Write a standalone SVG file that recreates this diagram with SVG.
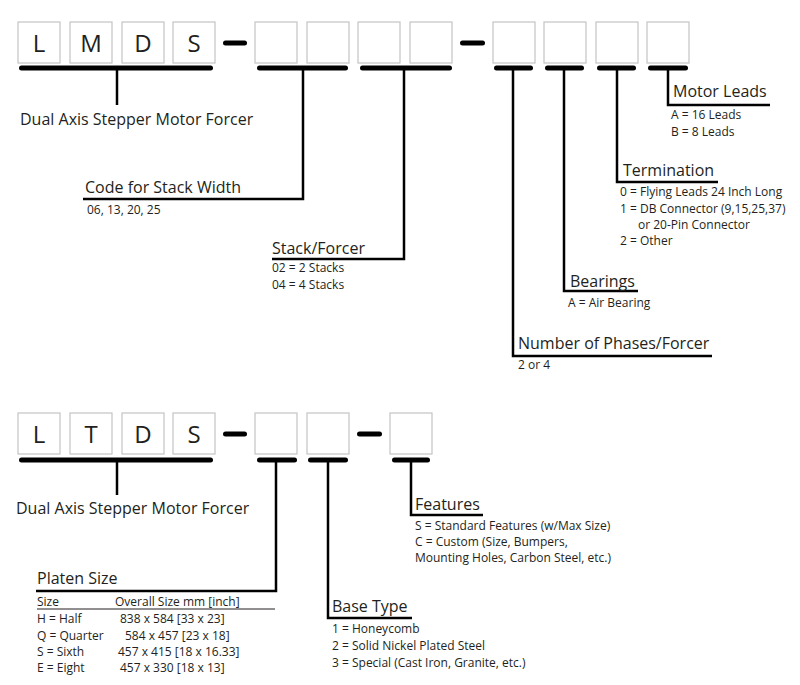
<svg xmlns="http://www.w3.org/2000/svg" width="800" height="685" viewBox="0 0 800 685">
<style>
text{font-family:"Open Sans","Noto Sans","Liberation Sans",sans-serif;fill:#231f20}
.box{fill:#fff;stroke:#c4c4c4;stroke-width:1.2}
.ltr{font-size:24px;text-anchor:middle}
.bar{stroke:#000;stroke-width:5;stroke-linecap:round;fill:none}
.ln{stroke:#000;stroke-width:2.5;fill:none}
.thin{stroke:#231f20;stroke-width:1;fill:none}
.t{font-size:16px}
.s{font-size:12px}
</style>
<rect width="800" height="685" fill="#fff"/>

<!-- TOP: LMDS code -->
<g id="lmds-code">
<rect class="box" x="18" y="22" width="42" height="41"/><text class="ltr" x="39" y="52">L</text>
<rect class="box" x="70" y="22" width="42" height="41"/><text class="ltr" x="91" y="52">M</text>
<rect class="box" x="122" y="22" width="42" height="41"/><text class="ltr" x="143" y="52">D</text>
<rect class="box" x="173" y="22" width="42" height="41"/><text class="ltr" x="194" y="52">S</text>
<line class="bar" x1="225.5" y1="43" x2="244.5" y2="43"/>
<rect class="box" x="255" y="22" width="42" height="41"/>
<rect class="box" x="307" y="22" width="42" height="41"/>
<rect class="box" x="358" y="22" width="42" height="41"/>
<rect class="box" x="410" y="22" width="42" height="41"/>
<line class="bar" x1="462.5" y1="43" x2="482.5" y2="43"/>
<rect class="box" x="493" y="22" width="42" height="41"/>
<rect class="box" x="544" y="22" width="42" height="41"/>
<rect class="box" x="596" y="22" width="42" height="41"/>
<rect class="box" x="647" y="22" width="42" height="41"/>
</g>

<g id="connectors-top">
<line class="bar" x1="21.5" y1="68" x2="210.5" y2="68"/>
<line class="bar" x1="259.5" y1="68" x2="345.5" y2="68"/>
<line class="bar" x1="362.5" y1="68" x2="449.5" y2="68"/>
<line class="bar" x1="496.5" y1="68" x2="530.5" y2="68"/>
<line class="bar" x1="547.5" y1="68" x2="581.5" y2="68"/>
<line class="bar" x1="599.5" y1="68" x2="633.5" y2="68"/>
<line class="bar" x1="650.5" y1="68" x2="685.5" y2="68"/>
<line class="ln" x1="117" y1="68" x2="117" y2="105"/>
<polyline class="ln" points="303,68 303,199 83,199"/>
<polyline class="ln" points="404,68 404,259 272,259"/>
<polyline class="ln" points="513,68 513,356 712,356"/>
<polyline class="ln" points="564,68 564,291 638,291"/>
<polyline class="ln" points="617,68 617,182 718,182"/>
<polyline class="ln" points="668,68 668,105 770,105"/>
</g>

<g id="top-product">
<text class="t" x="20" y="125">Dual Axis Stepper Motor Forcer</text>
</g>
<g id="stack-width">
<text class="t" x="85" y="193">Code for Stack Width</text>
<text class="s" x="87" y="214">06, 13, 20, 25</text>
</g>
<g id="stack-forcer">
<text class="t" x="272" y="254">Stack/Forcer</text>
<text class="s" x="272" y="272">02 = 2 Stacks</text>
<text class="s" x="272" y="289">04 = 4 Stacks</text>
</g>
<g id="phases">
<text class="t" x="518" y="349">Number of Phases/Forcer</text>
<text class="s" x="518" y="369">2 or 4</text>
</g>
<g id="bearings">
<text class="t" x="570" y="287">Bearings</text>
<text class="s" x="568" y="307">A = Air Bearing</text>
</g>
<g id="termination">
<text class="t" x="623" y="176">Termination</text>
<text class="s" x="620" y="196">0 = Flying Leads 24 Inch Long</text>
<text class="s" x="620" y="213">1 = DB Connector (9,15,25,37)</text>
<text class="s" x="638" y="229">or 20-Pin Connector</text>
<text class="s" x="620" y="245">2 = Other</text>
</g>
<g id="motor-leads">
<text class="t" x="673" y="97">Motor Leads</text>
<text class="s" x="671" y="119">A = 16 Leads</text>
<text class="s" x="671" y="135.5">B = 8 Leads</text>
</g>

<!-- BOTTOM: LTDS code -->
<g id="ltds-code">
<rect class="box" x="18" y="413" width="42" height="41"/><text class="ltr" x="39" y="443">L</text>
<rect class="box" x="70" y="413" width="42" height="41"/><text class="ltr" x="91" y="443">T</text>
<rect class="box" x="122" y="413" width="42" height="41"/><text class="ltr" x="143" y="443">D</text>
<rect class="box" x="173" y="413" width="42" height="41"/><text class="ltr" x="194" y="443">S</text>
<line class="bar" x1="225.5" y1="434" x2="244.5" y2="434"/>
<rect class="box" x="255" y="413" width="42" height="41"/>
<rect class="box" x="307" y="413" width="42" height="41"/>
<line class="bar" x1="359.5" y1="434" x2="379.5" y2="434"/>
<rect class="box" x="390" y="413" width="42" height="41"/>
</g>

<g id="connectors-bottom">
<line class="bar" x1="21.5" y1="460" x2="210.5" y2="460"/>
<line class="bar" x1="259.5" y1="460" x2="294.5" y2="460"/>
<line class="bar" x1="310.5" y1="460" x2="345.5" y2="460"/>
<line class="bar" x1="394.5" y1="460" x2="427.5" y2="460"/>
<line class="ln" x1="117" y1="460" x2="117" y2="495"/>
<polyline class="ln" points="276,460 276,591 36,591"/>
<polyline class="ln" points="328,460 328,618 412,618"/>
<polyline class="ln" points="411,460 411,515 483,515"/>
</g>

<g id="bottom-product">
<text class="t" x="16" y="514">Dual Axis Stepper Motor Forcer</text>
</g>
<g id="features">
<text class="t" x="415" y="510">Features</text>
<text class="s" x="415" y="530">S = Standard Features (w/Max Size)</text>
<text class="s" x="415" y="546">C = Custom (Size, Bumpers,</text>
<text class="s" x="415" y="562">Mounting Holes, Carbon Steel, etc.)</text>
</g>
<g id="platen-size">
<text class="t" x="37" y="584">Platen Size</text>
<text class="s" x="37" y="606">Size</text>
<text class="s" x="115" y="606">Overall Size mm [inch]</text>
<line class="thin" x1="37" y1="609" x2="275" y2="609"/>
<text class="s" x="37" y="623">H = Half</text><text class="s" x="120" y="623">838 x 584 [33 x 23]</text>
<text class="s" x="37" y="640">Q = Quarter</text><text class="s" x="125" y="640">584 x 457 [23 x 18]</text>
<text class="s" x="37" y="656">S = Sixth</text><text class="s" x="118" y="656">457 x 415 [18 x 16.33]</text>
<text class="s" x="37" y="672">E = Eight</text><text class="s" x="120" y="672">457 x 330 [18 x 13]</text>
</g>
<g id="base-type">
<text class="t" x="332" y="612">Base Type</text>
<text class="s" x="332" y="633">1 = Honeycomb</text>
<text class="s" x="332" y="650">2 = Solid Nickel Plated Steel</text>
<text class="s" x="332" y="667">3 = Special (Cast Iron, Granite, etc.)</text>
</g>
</svg>
